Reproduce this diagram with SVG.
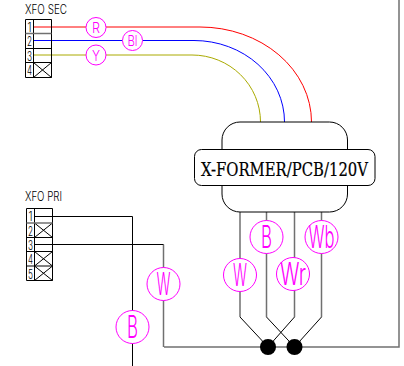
<svg xmlns="http://www.w3.org/2000/svg" width="404" height="366" viewBox="0 0 404 366">
<style>
.w{fill:none;stroke:#000;stroke-width:1}
.g{fill:none;stroke:#707070;stroke-width:1.5}
.c{fill:#fff;stroke:#f0f;stroke-width:1}
.ct{fill:#f0f;font-family:"Inter","Liberation Sans",sans-serif;font-weight:300;text-anchor:middle}
.t{fill:#000;font-family:"Inter","Liberation Sans",sans-serif;font-weight:300}
.n{fill:#000;font-family:"Inter","Liberation Sans",sans-serif;font-weight:300;font-size:12.500px;text-anchor:middle}
.b{fill:#fff;stroke:#000;stroke-width:1}
</style>
<g id="connectors">
<path d="M34 27H200A111.500 95 0 0 1 311.500 122" fill="none" stroke="#f00" stroke-width="1"/>
<path d="M34 40.500H194A90.500 81.500 0 0 1 284.500 122" fill="none" stroke="#00f" stroke-width="1"/>
<path d="M34 55H192A68.500 67 0 0 1 260.500 122" fill="none" stroke="#aaaa00" stroke-width="1"/>
<path class="g" d="M240 212V317M266.500 212V317M294.500 212V317M321.500 212V317"/>
<path class="w" d="M240 317L268 347M266.500 317L294.500 347M294.500 317L268 347M321.500 317L294.500 347"/>
<path class="g" d="M164 347H399V0"/>
<path class="w" d="M34.500 216.500H132.500V366"/>
<path class="g" d="M163.500 244.500V347"/>
<path class="w" d="M34.500 244.500H163.500"/>
</g>
<g id="xfo-sec">
<text class="t" font-size="12.500" x="25" y="14" textLength="42" lengthAdjust="spacingAndGlyphs">XFO SEC</text>
<path class="w" d="M25.500 19.500H51.500V77.500H25.500Z"/>
<path class="w" d="M33.500 19.500V77.500M25.500 48.500H51.500M25.500 62.500H51.500M33.500 62.500L51.500 77.500M33.500 77.500L51.500 62.500"/>
<path class="g" d="M25.500 33.500H51.500"/>
<text class="n" x="29.500" y="31.500" textLength="4" lengthAdjust="spacingAndGlyphs">1</text><text class="n" x="29.500" y="45.500" textLength="5" lengthAdjust="spacingAndGlyphs">2</text><text class="n" x="29.500" y="61" textLength="5" lengthAdjust="spacingAndGlyphs">3</text><text class="n" x="29.500" y="74.500" textLength="5" lengthAdjust="spacingAndGlyphs">4</text>
</g>
<g id="xfo-pri">
<text class="t" font-size="12.500" x="25" y="201" textLength="37" lengthAdjust="spacingAndGlyphs">XFO PRI</text>
<path class="w" d="M26.500 208.500H52.500V280.500H26.500Z"/>
<path class="w" d="M34.500 208.500V280.500M26.500 237.500H52.500M26.500 251.500H52.500M26.500 266H52.500M34.500 223L52.500 237.500M34.500 237.500L52.500 223M34.500 251.500L52.500 266M34.500 266L52.500 251.500M34.500 266L52.500 280.500M34.500 280.500L52.500 266"/>
<path class="g" d="M26.500 223H52.500"/>
<text class="n" x="30.500" y="221" textLength="4" lengthAdjust="spacingAndGlyphs">1</text><text class="n" x="30.500" y="235.500" textLength="5" lengthAdjust="spacingAndGlyphs">2</text><text class="n" x="30.500" y="249.500" textLength="5" lengthAdjust="spacingAndGlyphs">3</text><text class="n" x="30.500" y="264" textLength="5" lengthAdjust="spacingAndGlyphs">4</text><text class="n" x="30.500" y="278.500" textLength="5" lengthAdjust="spacingAndGlyphs">5</text>
</g>
<g id="transformer">
<rect class="b" x="222" y="122" width="125.500" height="90" rx="18" ry="18"/>
<rect class="b" x="194.500" y="149.500" width="180.500" height="36" rx="7" ry="7"/>
<text x="201" y="176" font-family="DejaVu Serif Condensed,DejaVu Serif,serif" font-size="19" fill="#000" stroke="#000" stroke-width=".2" textLength="167" lengthAdjust="spacingAndGlyphs">X-FORMER/PCB/120V</text>
</g>
<g id="w-r"><circle class="c" cx="96" cy="27.500" r="10"/><text class="ct" x="96" y="33" font-size="15" textLength="8" lengthAdjust="spacingAndGlyphs">R</text></g>
<g id="w-bl"><circle class="c" cx="132.500" cy="40.500" r="10"/><text class="ct" x="132.500" y="46" font-size="15" textLength="10" lengthAdjust="spacingAndGlyphs">Bl</text></g>
<g id="w-y"><circle class="c" cx="96" cy="55" r="10"/><text class="ct" x="96" y="60.500" font-size="15" textLength="8" lengthAdjust="spacingAndGlyphs">Y</text></g>
<g id="w-b1"><circle class="c" cx="266.500" cy="237" r="16.500"/><text class="ct" x="266.500" y="248" font-size="31" textLength="11" lengthAdjust="spacingAndGlyphs">B</text></g>
<g id="w-wb"><circle class="c" cx="321.500" cy="237" r="16.500"/><text class="ct" x="321.500" y="248" font-size="31" textLength="26" lengthAdjust="spacingAndGlyphs">Wb</text></g>
<g id="w-w1"><circle class="c" cx="240" cy="275" r="16.500"/><text class="ct" x="240" y="286" font-size="31" textLength="14" lengthAdjust="spacingAndGlyphs">W</text></g>
<g id="w-wr"><circle class="c" cx="293" cy="274" r="16.500"/><text class="ct" x="293" y="285" font-size="31" textLength="26" lengthAdjust="spacingAndGlyphs">Wr</text></g>
<g id="w-w2"><circle class="c" cx="163.500" cy="284" r="16.500"/><text class="ct" x="163.500" y="295" font-size="31" textLength="14" lengthAdjust="spacingAndGlyphs">W</text></g>
<g id="w-b2"><circle class="c" cx="132.500" cy="327" r="16.500"/><text class="ct" x="132.500" y="338" font-size="31" textLength="11" lengthAdjust="spacingAndGlyphs">B</text></g>
<g id="dot-1"><circle cx="268" cy="347" r="8"/></g>
<g id="dot-2"><circle cx="294.500" cy="347" r="8"/></g>
</svg>
